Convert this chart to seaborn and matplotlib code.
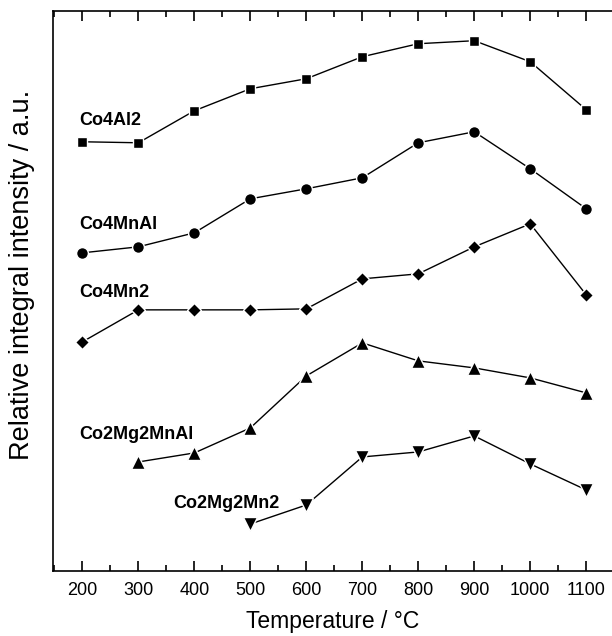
#relative integral intensity vs calcination temperature for the five catalysts
import pandas as pd
from matplotlib import pyplot as plt
import seaborn as sns
import matplotlib.ticker as mtick

#temperatures (degC) and intensities (a.u.)
temps = [200, 300, 400, 500, 600, 700, 800, 900, 1000, 1100]
co4al2 = [4.29, 4.28, 4.60, 4.82, 4.92, 5.14, 5.27, 5.30, 5.09, 4.61]
co4mnal = [3.18, 3.24, 3.38, 3.72, 3.82, 3.93, 4.28, 4.39, 4.02, 3.62]
co4mn2 = [2.29, 2.61, 2.61, 2.61, 2.62, 2.92, 2.97, 3.24, 3.47, 2.76]
co2mg2mnal = [1.09, 1.18, 1.43, 1.95, 2.28, 2.10, 2.03, 1.93, 1.78]   # from 300
co2mg2mn2 = [0.47, 0.66, 1.14, 1.19, 1.35, 1.07, 0.81]               # from 500

names = ["Co4Al2", "Co4MnAl", "Co4Mn2", "Co2Mg2MnAl", "Co2Mg2Mn2"]

sns.set_style("ticks")
plt.rcParams['font.family'] = ['Liberation Sans', 'DejaVu Sans']
plt.rcParams.update({'text.color': 'black', 'axes.labelcolor': 'black',
                     'xtick.color': 'black', 'axes.edgecolor': 'black',
                     'xtick.direction': 'in', 'xtick.top': True, 'xtick.bottom': True,
                     'xtick.major.size': 7, 'xtick.minor.size': 4,
                     'xtick.major.width': 1.2, 'xtick.minor.width': 1.2,
                     'xtick.minor.visible': True})

fig = plt.figure(figsize=(6.12, 6.36), dpi=100)
ax = fig.add_axes([53.3/612, 1 - 571/636, (612 - 53.3)/612, (571 - 10.7)/636])

#one call per series, markers with a thin white rim so the line stops short
series = [
    (temps, co4al2, 's', 7.5),
    (temps, co4mnal, 'o', 8.5),
    (temps, co4mn2, 'D', 7.5),
    (temps[1:], co2mg2mnal, '^', 9.5),
    (temps[3:], co2mg2mn2, 'v', 9.5),
]
for x, y, m, ms in series:
    sns.lineplot(x=x, y=y, ax=ax, color='black', linewidth=1.0, marker=m,
                 markersize=ms, markeredgecolor='white', markeredgewidth=1.0)

#series labels
label_pos = [(194, 4.50), (194, 3.46), (194, 2.78), (194, 1.36), (362, 0.67)]
for name, (lx, ly) in zip(names, label_pos):
    ax.text(lx, ly, name, fontsize=13, fontweight='bold', ha='left', va='center')

ax.set_xlim(148, 1146)
ax.set_ylim(0, 5.60)
ax.xaxis.set_major_locator(mtick.MultipleLocator(100))
ax.xaxis.set_minor_locator(mtick.MultipleLocator(50))
ax.set_yticks([])
ax.yaxis.set_minor_locator(mtick.NullLocator())
ax.tick_params(axis='x', which='major', labelsize=13, pad=8)
for s in ['left', 'bottom', 'top']:
    ax.spines[s].set_linewidth(1.2)
ax.spines['right'].set_visible(False)

ax.set_xlabel("Temperature / °C", fontsize=16.5)
ax.xaxis.set_label_coords(0.5, -0.070)
ax.set_ylabel("Relative integral intensity / a.u.", fontsize=19.5)
ax.yaxis.set_label_coords(-0.033, 0.528)

fig.savefig("out.png", dpi=100)
